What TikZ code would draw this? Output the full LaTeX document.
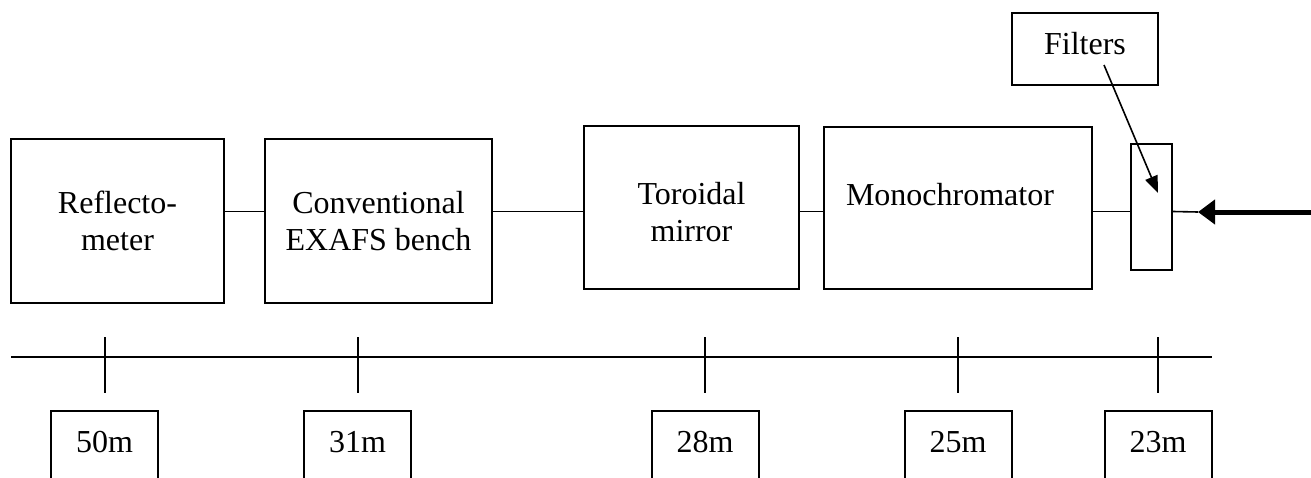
\documentclass[tikz,border=0pt]{standalone}
\usepackage{fontspec}
\setmainfont{Liberation Serif}
\usetikzlibrary{arrows.meta}
\begin{document}
\begin{tikzpicture}[x=1pt,y=-1pt,
  every node/.style={font=\fontsize{32}{37}\selectfont},
  unitbox/.style={draw,line width=2pt,rectangle,inner sep=0pt,align=center},
  distbox/.style={draw,line width=2pt,rectangle,inner sep=0pt,minimum width=107pt,text height=41pt,text depth=80pt,anchor=base},
  conn/.style={line width=1.6pt},
  tick/.style={line width=2pt}]
\useasboundingbox (0,0) rectangle (1311,477);
\clip (0,0) rectangle (1311,477);
% beam-line units
\node[unitbox,minimum width=213pt,minimum height=164pt] (refl) at (117.5,221) {Reflecto-\\meter};
\node[unitbox,minimum width=227pt,minimum height=164pt] (conv) at (378.5,221) {Conventional\\EXAFS bench};
\node[unitbox,minimum width=215pt,minimum height=163pt] (tor) at (691.5,207.5) {\rule{0pt}{32pt}Toroidal\\mirror};
\node[unitbox,anchor=north,inner xsep=22pt,text width=224pt,align=left,text height=78pt,text depth=84pt] (mono) at (958,126) {Monochromator};
\node[unitbox,minimum width=41pt,minimum height=126pt] (slab) at (1151.5,207) {};
\node[unitbox,anchor=north,minimum width=146pt,text height=41pt,text depth=31pt] (filt) at (1085,12) {Filters};
% beam path
\coordinate (beam) at (0,211.5);
\coordinate (src) at (1311,212);
\coordinate (tip) at (1198,212);
\draw[conn] (refl.east |- beam) -- (conv.west |- beam);
\draw[conn] (conv.east |- beam) -- (tor.west |- beam);
\draw[conn] (tor.east |- beam) -- (mono.west |- beam);
\draw[conn] (mono.east |- beam) -- (slab.west |- beam);
\draw[conn] (slab.east |- beam) -- (tip);
\draw[line width=5pt,-{Triangle[length=17pt,width=24pt]}] (src) -- (tip);
% filters pointer
\coordinate (fstart) at (1104,65);
\coordinate (fend) at (1158,193);
\draw[conn,-{Triangle[length=17pt,width=13pt]}] (fstart) -- (fend);
% distance scale
\coordinate (sL) at (11,357);
\coordinate (sR) at (1212,357);
\draw[tick] (sL) -- (sR);
\foreach \nm/\xx/\bx/\lab in {a/105/104.5/50m, b/358/357.5/31m, c/705/705/28m, d/958/958/25m, e/1158/1158/23m}{
  \coordinate (t\nm top) at (\xx,337);
  \coordinate (t\nm bot) at (\xx,393);
  \draw[tick] (t\nm top) -- (t\nm bot);
  \node[distbox] (d\nm) at (\bx,452) {\lab};
}
\end{tikzpicture}
\end{document}
